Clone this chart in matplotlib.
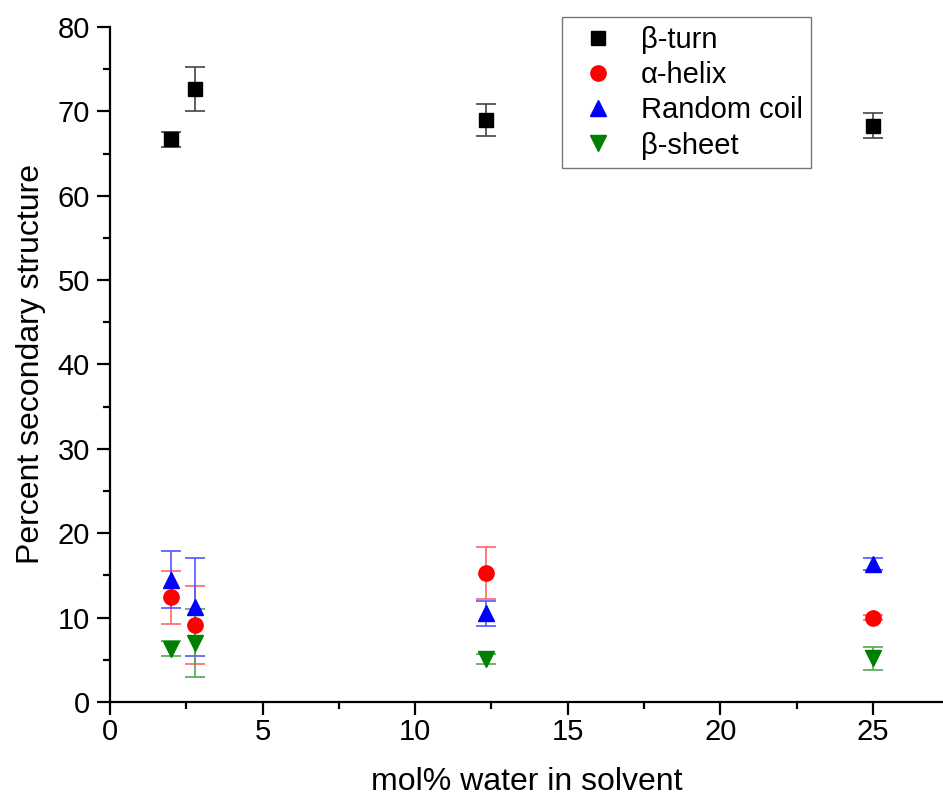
import matplotlib.pyplot as plt
from matplotlib.ticker import MultipleLocator

plt.rcParams['font.family'] = ['Liberation Sans', 'DejaVu Sans']

# datos
x_turn = [2.0, 2.78, 12.33, 25.0]
turn = [66.7, 72.7, 69.0, 68.3]
turn_err = [0.9, 2.6, 1.9, 1.5]

x_helix = [2.0, 2.78, 12.33, 25.0]
helix = [12.4, 9.1, 15.3, 10.0]
helix_err = [3.1, 4.6, 3.05, 0.3]

x_coil = [2.0, 2.78, 12.33, 25.0]
coil = [14.5, 11.3, 10.5, 16.4]
coil_err = [3.4, 5.8, 1.5, 0.7]

x_sheet = [2.0, 2.78, 12.33, 25.0]
sheet = [6.3, 7.0, 5.1, 5.2]
sheet_err = [0.9, 4.0, 0.6, 1.35]

fig = plt.figure(figsize=(9.43, 8.01), dpi=100)
ax = fig.add_axes([0.1166, 0.1236, 0.8834, 0.8427])

handles = []

def serie(x, y, err, color, ecolor, marker, ms, label):
    eb = ax.errorbar(x, y, yerr=err, fmt=marker, color=color, ms=ms, mec=color,
                     ecolor=ecolor, elinewidth=1.2, capsize=7, capthick=1.2,
                     label=label, zorder=3)
    handles.append(eb[0])

serie(x_turn, turn, turn_err, 'black', '#444444', 's', 10, 'β-turn')
serie(x_helix, helix, helix_err, 'red', '#ff6666', 'o', 11, 'α-helix')
serie(x_coil, coil, coil_err, 'blue', '#5555ff', '^', 12, 'Random coil')
serie(x_sheet, sheet, sheet_err, 'green', '#55a555', 'v', 12, 'β-sheet')

ax.set_xlim(0, 27.3)
ax.set_ylim(0, 80)
ax.xaxis.set_major_locator(MultipleLocator(5))
ax.xaxis.set_minor_locator(MultipleLocator(2.5))
ax.yaxis.set_major_locator(MultipleLocator(10))
ax.yaxis.set_minor_locator(MultipleLocator(5))

ax.spines['top'].set_visible(False)
ax.spines['right'].set_visible(False)
ax.spines['left'].set_linewidth(1.6)
ax.spines['bottom'].set_linewidth(1.6)
ax.tick_params(which='major', direction='out', length=9.5, width=1.6, labelsize=21)
ax.tick_params(axis='x', which='major', pad=2)
ax.tick_params(axis='y', which='major', pad=5)
ax.tick_params(which='minor', direction='out', length=5, width=1.6)

ax.set_xlabel('mol% water in solvent', fontsize=23, labelpad=15)
ax.set_ylabel('Percent secondary structure', fontsize=23, labelpad=8)

leg = ax.legend(handles=handles, labels=['β-turn', 'α-helix', 'Random coil', 'β-sheet'],
                loc='upper left', bbox_to_anchor=(0.5426, 1.0148), borderaxespad=0,
                fontsize=21, frameon=True, fancybox=False, edgecolor='#555555',
                handletextpad=0.5, borderpad=0.3, labelspacing=0.25,
                handlelength=1.9)
leg.get_frame().set_linewidth(1.0)

fig.savefig('out.png', dpi=100)
